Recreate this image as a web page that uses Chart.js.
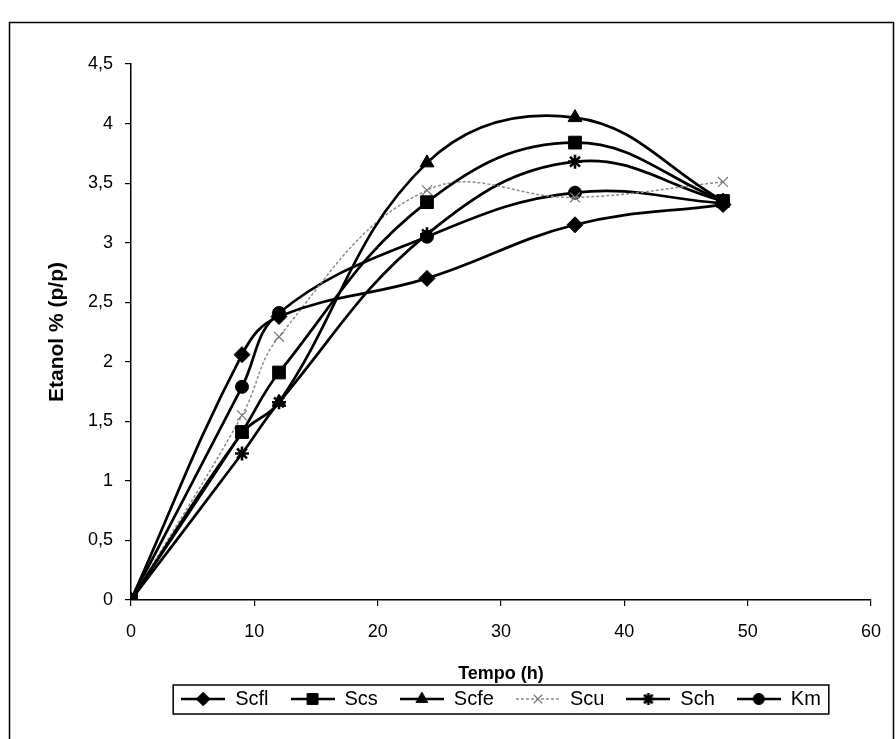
<!DOCTYPE html>
<html>
<head>
<meta charset="utf-8">
<script src="https://cdn.jsdelivr.net/npm/chart.js@4.4.0/dist/chart.umd.min.js"></script>
<style>
html, body { margin: 0; padding: 0; background: #fff; }
#wrap { width: 896px; height: 739px; position: relative; }
</style>
</head>
<body>
<div id="wrap"><canvas id="myChart"></canvas></div>
<script>
// sampling times (h)
var hours = [0, 9, 12, 24, 36, 48];

// etanol % (p/p) per strain
var scfl = [0, 2.06, 2.38, 2.70, 3.15, 3.32];
var scs  = [0, 1.41, 1.91, 3.34, 3.84, 3.35];
var scfe = [0, 1.40, 1.66, 3.67, 4.05, 3.35];
var scu  = [0, 1.55, 2.21, 3.44, 3.38, 3.51];
var sch  = [0, 1.23, 1.66, 3.07, 3.68, 3.35];
var km   = [0, 1.79, 2.41, 3.05, 3.42, 3.33];

var FONT = "'Liberation Sans', Arial, sans-serif";

/// @ys - number[]
function toPoints(ys) {
    var pts = [];
    for (var i = 0; i < hours.length; i++) {
        pts.push({ x: hours[i], y: ys[i] });
    }
    return pts;
}

function blackSeries(label, ys, style, radius) {
    return {
        label: label,
        data: toPoints(ys),
        borderColor: "#000",
        borderWidth: 2.7,
        backgroundColor: "#000",
        pointStyle: style,
        pointRadius: radius,
        pointHoverRadius: radius,
        pointBackgroundColor: "#000",
        pointBorderColor: "#000",
        pointBorderWidth: style === "star" ? 2.6 : 1,
        tension: 0.4,
        fill: false
    };
}

var datasets = [
    blackSeries("Scfl", scfl, "rectRot", 8),
    blackSeries("Scs", scs, "rect", 9),
    blackSeries("Scfe", scfe, "triangle", 8),
    {
        label: "Scu",
        data: toPoints(scu),
        borderColor: "#8c8c8c",
        borderWidth: 1.5,
        borderDash: [3, 2],
        backgroundColor: "#8c8c8c",
        pointStyle: "crossRot",
        pointRadius: 7,
        pointHoverRadius: 7,
        pointBackgroundColor: "#777",
        pointBorderColor: "#777",
        pointBorderWidth: 1.2,
        tension: 0.4,
        fill: false
    },
    blackSeries("Sch", sch, "star", 7),
    blackSeries("Km", km, "circle", 6.5)
];

// legend symbol: short line with the marker in the middle (Excel style)
function legendSymbol(ds) {
    var c = document.createElement("canvas");
    c.width = 44;
    c.height = 18;
    var ctx = c.getContext("2d");
    ctx.strokeStyle = ds.borderColor;
    ctx.lineWidth = ds.borderWidth;
    ctx.setLineDash(ds.borderDash || []);
    ctx.beginPath();
    ctx.moveTo(0, 9);
    ctx.lineTo(44, 9);
    ctx.stroke();
    ctx.setLineDash([]);
    ctx.fillStyle = ds.pointBackgroundColor;
    ctx.strokeStyle = ds.pointBorderColor;
    ctx.lineWidth = ds.pointBorderWidth;
    Chart.helpers.drawPoint(ctx, {
        pointStyle: ds.pointStyle,
        radius: ds.pointRadius * 0.85,
        rotation: 0,
        borderWidth: ds.pointBorderWidth
    }, 22, 9);
    return c;
}

var frameAndLegendBox = {
    id: "frameAndLegendBox",
    beforeDraw: function (chart) {
        var ctx = chart.ctx;
        ctx.save();
        ctx.fillStyle = "#fff";
        ctx.fillRect(0, 0, chart.width, chart.height);
        ctx.strokeStyle = "#000";
        ctx.lineWidth = 1.5;
        ctx.strokeRect(9.5, 22.5, 884, 740);
        ctx.restore();
    },
    afterDraw: function (chart) {
        var boxes = chart.legend.legendHitBoxes;
        if (!boxes || !boxes.length) return;
        var left = Infinity, right = -Infinity, top = Infinity, bottom = -Infinity;
        boxes.forEach(function (b) {
            left = Math.min(left, b.left);
            right = Math.max(right, b.left + b.width);
            top = Math.min(top, b.top);
            bottom = Math.max(bottom, b.top + b.height);
        });
        var ctx = chart.ctx;
        ctx.save();
        ctx.strokeStyle = "#000";
        ctx.lineWidth = 1.5;
        ctx.strokeRect(left - 8, top - 4, right - left + 16, bottom - top + 9);
        ctx.restore();
    }
};

const config = {
    type: "line",
    data: { datasets: datasets },
    options: {
        responsive: true,
        maintainAspectRatio: false,
        animation: false,
        layout: { padding: { left: 0, right: 21, top: 64, bottom: 20 } },
        scales: {
            x: {
                type: "linear",
                min: 0,
                max: 60,
                afterFit: function (scale) { scale.height = 67; },
                ticks: {
                    stepSize: 10,
                    color: "#000",
                    padding: 15,
                    maxRotation: 0,
                    font: { family: FONT, size: 18 }
                },
                grid: { drawOnChartArea: false, drawTicks: true, tickLength: 6, color: "#000", lineWidth: 1.2 },
                border: { color: "#000", width: 1.5 },
                title: {
                    display: true,
                    text: "Tempo (h)",
                    color: "#000",
                    padding: { top: 0, bottom: -18 },
                    font: { family: FONT, size: 18, weight: "bold" }
                }
            },
            y: {
                min: 0,
                max: 4.5,
                afterFit: function (scale) { scale.width = 131; },
                ticks: {
                    stepSize: 0.5,
                    color: "#000",
                    padding: 12,
                    font: { family: FONT, size: 18 },
                    callback: function (v) { return String(v).replace(".", ","); }
                },
                grid: { drawOnChartArea: false, drawTicks: true, tickLength: 6, color: "#000", lineWidth: 1.2 },
                border: { color: "#000", width: 1.5 },
                title: {
                    display: true,
                    text: "Etanol % (p/p)",
                    color: "#000",
                    padding: { top: 45, bottom: 0 },
                    font: { family: FONT, size: 21, weight: "bold" }
                }
            }
        },
        plugins: {
            tooltip: { enabled: false },
            legend: {
                position: "bottom",
                fullSize: false,
                labels: {
                    usePointStyle: true,
                    pointStyleWidth: 44,
                    padding: 22,
                    color: "#000",
                    font: { family: FONT, size: 20 },
                    generateLabels: function (chart) {
                        return chart.data.datasets.map(function (ds, i) {
                            return {
                                text: ds.label,
                                pointStyle: legendSymbol(ds),
                                datasetIndex: i,
                                fontColor: "#000",
                                fillStyle: "#000",
                                strokeStyle: "#000",
                                lineWidth: 0,
                                hidden: false
                            };
                        });
                    }
                }
            }
        }
    },
    plugins: [frameAndLegendBox]
};

new Chart(document.getElementById("myChart"), config);
</script>
</body>
</html>
